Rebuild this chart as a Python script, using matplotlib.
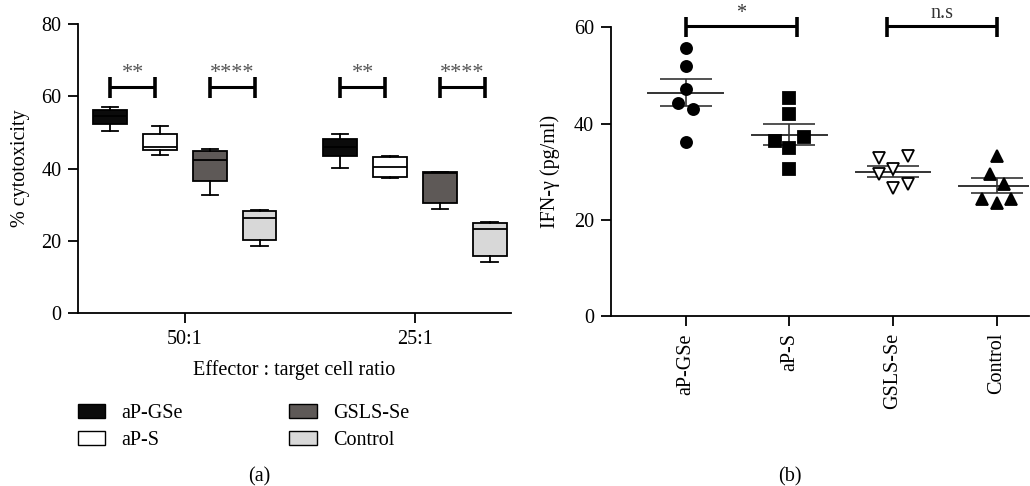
import numpy as np
import matplotlib
matplotlib.use("Agg")
import matplotlib.pyplot as plt
from matplotlib.patches import Patch

plt.rcParams['font.family'] = ['Liberation Serif', 'DejaVu Serif']
plt.rcParams['font.size'] = 14.5

# ---- panel (a): box plots of % cytotoxicity ----
ratios = ['50:1', '25:1']
groups = ['aP-GSe', 'aP-S', 'GSLS-Se', 'Control']
box_colors = ['#0b0b0b', '#ffffff', '#5e5957', '#d8d8d8']
# per ratio, per group: (whislo, q1, med, q3, whishi)
box_50to1 = [
    (50.3, 52.3, 54.5, 56.1, 56.9),
    (43.8, 45.2, 45.9, 49.7, 51.9),
    (32.6, 36.6, 42.3, 44.8, 45.4),
    (18.5, 20.2, 26.4, 28.3, 28.5),
]
box_25to1 = [
    (40.1, 43.4, 46.0, 48.2, 49.5),
    (37.5, 37.8, 40.5, 43.3, 43.5),
    (28.9, 30.5, 38.8, 39.1, 39.2),
    (14.2, 16.0, 23.3, 25.0, 25.3),
]
sig_a = [['**', '****'], ['**', '****']]

# ---- panel (b): IFN-gamma scatter ----
ifn_aPGSe = [55.6, 52.0, 47.2, 44.2, 43.0, 36.2]
ifn_aPS = [45.4, 41.9, 36.3, 37.3, 35.0, 30.5]
ifn_GSLS = [32.8, 33.3, 30.5, 29.5, 27.5, 26.6]
ifn_ctrl = [33.3, 29.5, 27.4, 24.3, 23.6, 24.3]
sig_b = ['*', 'n.s']

# horizontal spread of overlapping points (layout only)
jit_aPGSe = [0, 0, 0, -0.07, 0.07, 0]
jit_aPS = [0, 0, -0.14, 0.14, 0, 0]
jit_GSLS = [-0.14, 0.14, 0, -0.14, 0.14, 0]
jit_ctrl = [0, -0.07, 0.07, -0.14, 0, 0.14]

fig = plt.figure(figsize=(10.3, 4.86), dpi=100)
axa = fig.add_axes([0.0757, 0.355, 0.4203, 0.596])
axb = fig.add_axes([0.593, 0.349, 0.406, 0.595])

# panel (a)
off = 0.217
bw = 0.145
for ri, data in enumerate([box_50to1, box_25to1]):
    for gi, vals in enumerate(data):
        lo, q1, med, q3, hi = vals
        pos = ri + (gi - 1.5) * off
        stats = [dict(whislo=lo, q1=q1, med=med, q3=q3, whishi=hi, fliers=[])]
        axa.bxp(stats, positions=[pos], widths=bw, patch_artist=True,
                showfliers=False,
                boxprops=dict(facecolor=box_colors[gi], edgecolor='black', linewidth=1.3),
                medianprops=dict(color='black', linewidth=1.3),
                whiskerprops=dict(color='black', linewidth=1.3),
                capprops=dict(color='black', linewidth=1.3),
                capwidths=bw * 0.5, manage_ticks=False)
    # significance brackets
    for k, pair in enumerate([(0, 1), (2, 3)]):
        x1 = ri + (pair[0] - 1.5) * off
        x2 = ri + (pair[1] - 1.5) * off - 0.02
        yb = 62.5
        axa.plot([x1, x2], [yb, yb], color='black', lw=2.2, solid_capstyle='butt')
        axa.plot([x1, x1], [59.6, 65.4], color='black', lw=2.6, solid_capstyle='butt')
        axa.plot([x2, x2], [59.6, 65.4], color='black', lw=2.6, solid_capstyle='butt')
        axa.text((x1 + x2) / 2, 63.6, sig_a[ri][k], ha='center', va='bottom',
                 fontsize=16, color='#555555')

axa.set_xlim(-0.465, 1.417)
axa.set_ylim(0, 80)
axa.set_yticks([0, 20, 40, 60, 80])
axa.set_xticks([0, 1])
axa.set_xticklabels(ratios)
axa.set_xlabel('Effector : target cell ratio', labelpad=8)
axa.set_ylabel('% cytotoxicity', labelpad=8)
axa.spines['top'].set_visible(False)
axa.spines['right'].set_visible(False)
for sp in ['left', 'bottom']:
    axa.spines[sp].set_linewidth(1.3)
axa.tick_params(direction='out', length=7, width=1.3, pad=5)

handles = [Patch(facecolor=c, edgecolor='black', linewidth=1.0) for c in box_colors]
fig.legend(handles, groups, loc='upper left', bbox_to_anchor=(0.058, 0.207),
           ncol=2, frameon=False, handlelength=1.35, handleheight=0.7,
           columnspacing=5.3, labelspacing=0.4, handletextpad=0.8, fontsize=14.5)

# panel (b)
ifn_sets = [ifn_aPGSe, ifn_aPS, ifn_GSLS, ifn_ctrl]
jits = [jit_aPGSe, jit_aPS, jit_GSLS, jit_ctrl]
mk = [dict(marker='o', mfc='black', mec='black'),
      dict(marker='s', mfc='black', mec='black'),
      dict(marker='v', mfc='white', mec='black'),
      dict(marker='^', mfc='black', mec='black')]
for i, (vals, jit, m) in enumerate(zip(ifn_sets, jits, mk)):
    v = np.array(vals)
    mean = v.mean()
    sem = v.std(ddof=1) / np.sqrt(len(v))
    axb.plot(i + np.array(jit), v, linestyle='none', markersize=8,
             markeredgewidth=1.3, clip_on=False, zorder=3, **m)
    axb.plot([i - 0.36, i + 0.36], [mean, mean], color='#333333', lw=1.4, zorder=2)
    axb.errorbar([i], [mean], yerr=[sem], color='#333333', lw=1.2,
                 capsize=19, capthick=1.2, zorder=2)

for k, (a, b) in enumerate([(0, 1), (2, 3)]):
    x1 = a if a == 0 else a - 0.06
    x2 = b + 0.07 if b == 1 else b
    axb.plot([x1, x2], [60.3, 60.3], color='black', lw=2.2, clip_on=False,
             solid_capstyle='butt')
    for xx in (x1, x2):
        axb.plot([xx, xx], [58.0, 62.2], color='black', lw=2.6, clip_on=False,
                 solid_capstyle='butt')
    axb.text((x1 + x2) / 2, 60.9, sig_b[k], ha='center', va='bottom',
             fontsize=14.5, color='#333333')

axb.set_xlim(-0.72, 3.31)
axb.set_ylim(0, 60)
axb.set_yticks([0, 20, 40, 60])
axb.set_xticks(range(4))
axb.set_xticklabels(groups, rotation=90)
axb.set_ylabel('IFN-γ (pg/ml)', labelpad=10)
axb.spines['top'].set_visible(False)
axb.spines['right'].set_visible(False)
for sp in ['left', 'bottom']:
    axb.spines[sp].set_linewidth(1.3)
axb.tick_params(direction='out', length=7, width=1.3, pad=5)

fig.text(0.252, 0.0185, '(a)', ha='center', va='center', fontsize=14.5)
fig.text(0.767, 0.0185, '(b)', ha='center', va='center', fontsize=14.5)

fig.savefig('out.png', dpi=100)
